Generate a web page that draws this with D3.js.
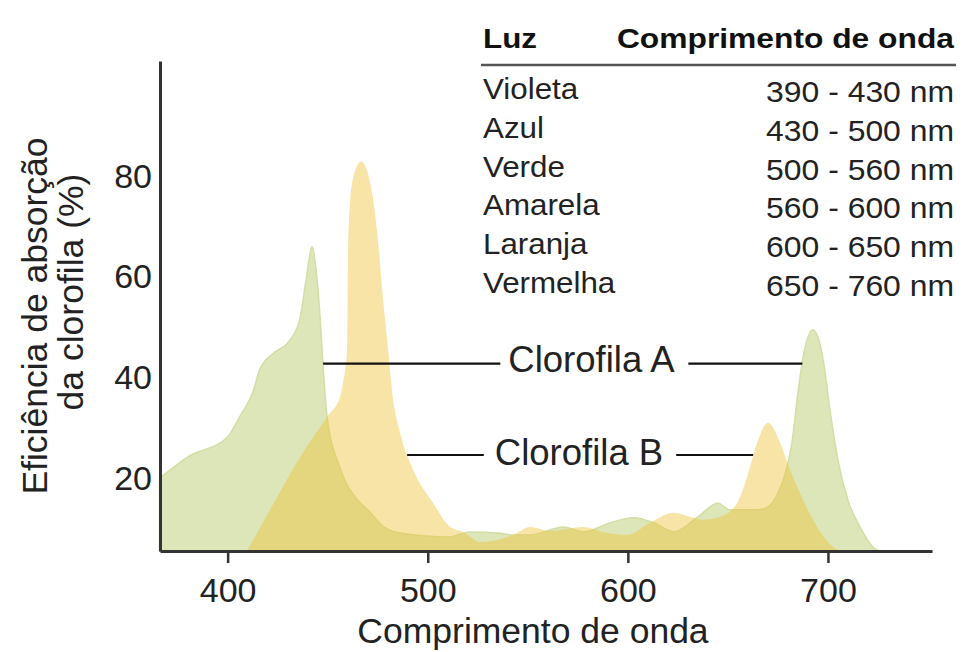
<!DOCTYPE html>
<html>
<head>
<meta charset="utf-8">
<script src="https://cdn.jsdelivr.net/npm/d3@7"></script>
<style>
  html, body { margin: 0; padding: 0; background: #fff; }
  svg { display: block; font-family: "Liberation Sans", Arial, Helvetica, sans-serif; }
</style>
</head>
<body>
<svg id="chart" width="963" height="652"></svg>
<script>
// ---- Data ----
const xTicks = [400, 500, 600, 700];
const yTicks = [20, 40, 60, 80];

// Clorofila A (green) : wavelength (nm), absorption (%)
const chlAWave = [366, 380, 400, 406, 413, 416, 423, 430, 436, 439.2, 442.2, 444.7, 446.2, 447.7, 449.7, 456, 465, 470, 478, 486, 511, 521, 535, 543, 551, 568, 578, 591, 603, 613, 623, 635, 645, 651, 665, 670, 675, 680, 682, 685, 688, 692.6, 697.6, 701, 705, 710, 716, 723, 726];
const chlAValue = [20, 24.2, 28.2, 32.2, 37.6, 41.6, 44.9, 46.9, 51.5, 59.5, 66.1, 59.5, 52, 42.2, 32.2, 22.2, 15.6, 13.7, 10.3, 9.1, 8.3, 9.3, 9.1, 8.7, 8.7, 10.3, 9.3, 11.1, 12.1, 11.1, 9.3, 12.3, 15, 13.7, 13.7, 14.3, 17, 23, 27, 37, 44.9, 49.5, 43.6, 33.6, 23.6, 15.6, 10.3, 6.1, 5.5];

// Clorofila B (yellow)
const chlBWave = [409.7, 424.7, 436.2, 449.7, 456.2, 457.7, 459.7, 460.2, 462.2, 466.7, 471.2, 474.7, 477.7, 480.2, 482.7, 486.2, 492.7, 502.7, 511.2, 517.7, 526.2, 534.7, 542.7, 551.2, 561.2, 577.7, 587.6, 599.6, 611.1, 622.6, 631.1, 637.6, 646.1, 654.6, 659.6, 664.6, 670.1, 676.1, 681.1, 687.6, 694.6, 702.6, 707.1];
const chlBValue = [5.5, 16.2, 24.2, 32.2, 36.2, 39, 45.6, 65.5, 78.8, 83, 78.8, 68.9, 55.5, 45.5, 35.6, 29, 21.6, 15, 10.3, 9.3, 7.3, 7.7, 8.7, 10.3, 9.5, 10.3, 9.3, 8.7, 11.1, 13.1, 12.3, 11.7, 12.3, 15, 20.2, 27, 31, 27, 21.6, 15.6, 10.3, 6.3, 5.5];

// Table of light colours
const tableHeader = ["Luz", "Comprimento de onda"];
const lightNames = ["Violeta", "Azul", "Verde", "Amarela", "Laranja", "Vermelha"];
const lightRanges = ["390 - 430 nm", "430 - 500 nm", "500 - 560 nm", "560 - 600 nm", "600 - 650 nm", "650 - 760 nm"];

const seriesLabels = ["Clorofila A", "Clorofila B"];
const xTitle = "Comprimento de onda";
const yTitle = ["Eficiência de absorção", "da clorofila (%)"];

// ---- Layout ----
const svg = d3.select("#chart");
const x = d3.scaleLinear().domain([366.2, 752]).range([160, 932]);
const y = d3.scaleLinear().domain([5.5, 103]).range([551, 61]);

const area = d3.area()
  .x(d => x(d[0]))
  .y0(y(5.5))
  .y1(d => y(d[1]))
  .curve(d3.curveMonotoneX);

const dataA = chlAWave.map((w, i) => [w, chlAValue[i]]);
const dataB = chlBWave.map((w, i) => [w, chlBValue[i]]);

svg.append("path").datum(dataA)
  .attr("d", area)
  .attr("fill", "#dde6b9")
  .attr("stroke", "#d2dea5")
  .attr("stroke-width", 1.5);

svg.append("path").datum(dataB)
  .attr("d", area)
  .attr("fill", "#eec33a")
  .attr("fill-opacity", 0.45);

// Axes
const xAxis = svg.append("g")
  .attr("transform", `translate(0,${y(5.5)})`)
  .call(d3.axisBottom(x).tickValues(xTicks).tickSize(12).tickSizeOuter(0).tickPadding(15));
xAxis.select(".domain").attr("stroke", "#333").attr("stroke-width", 3);
xAxis.selectAll(".tick line").attr("stroke", "#333").attr("stroke-width", 2.5);
xAxis.selectAll(".tick text").attr("font-size", 34).attr("fill", "#222")
  .attr("font-family", "'Liberation Sans', Arial, sans-serif");

const yAxis = svg.append("g")
  .attr("transform", `translate(${x(366.2)},0)`)
  .call(d3.axisLeft(y).tickValues(yTicks).tickSize(0).tickSizeOuter(0).tickPadding(8));
yAxis.select(".domain").attr("stroke", "#333").attr("stroke-width", 3);
yAxis.selectAll(".tick text").attr("font-size", 34).attr("fill", "#222")
  .attr("font-family", "'Liberation Sans', Arial, sans-serif");

// Axis titles
svg.append("text")
  .attr("x", 533).attr("y", 643)
  .attr("text-anchor", "middle")
  .attr("font-size", 35.5).attr("fill", "#222")
  .text(xTitle);

svg.append("text")
  .attr("transform", "translate(47,316) rotate(-90)")
  .attr("text-anchor", "middle")
  .attr("font-size", 35.5).attr("fill", "#222")
  .text(yTitle[0]);
svg.append("text")
  .attr("transform", "translate(83,292) rotate(-90)")
  .attr("text-anchor", "middle")
  .attr("font-size", 35.5).attr("fill", "#222")
  .text(yTitle[1]);

// Table
const table = svg.append("g");
table.append("text").attr("transform", "translate(483,48) scale(1.12,1)")
  .attr("font-size", 28).attr("font-weight", "bold").attr("fill", "#111")
  .text(tableHeader[0]);
table.append("text").attr("transform", "translate(954,48) scale(1.135,1)")
  .attr("text-anchor", "end")
  .attr("font-size", 28).attr("font-weight", "bold").attr("fill", "#111")
  .text(tableHeader[1]);
table.append("line")
  .attr("x1", 481).attr("x2", 956).attr("y1", 65).attr("y2", 65)
  .attr("stroke", "#555").attr("stroke-width", 2.5);

const rowY = d3.scalePoint().domain(lightNames).range([99, 293]);
table.selectAll("text.name").data(lightNames).join("text")
  .attr("class", "name")
  .attr("transform", d => `translate(483,${rowY(d)}) scale(1.08,1)`)
  .attr("font-size", 29).attr("fill", "#222")
  .text(d => d);
table.selectAll("text.range").data(lightRanges).join("text")
  .attr("class", "range")
  .attr("transform", (d, i) => `translate(954,${rowY(lightNames[i]) + 3}) scale(1.1,1)`)
  .attr("text-anchor", "end")
  .attr("font-size", 29).attr("fill", "#222")
  .text(d => d);

// Annotations (leader lines)
const annotations = [
  { label: seriesLabels[0], from: 447.7, to: 687.2, level: 42.8, cx: 591.5, base: 372, gapL: 8, gapR: 13 },
  { label: seriesLabels[1], from: 489.7, to: 662.6, level: 24.6, cx: 579, base: 465, gapL: 11, gapR: 13 }
];
const annG = svg.append("g");
annotations.forEach(a => {
  const yy = y(a.level);
  const t = annG.append("text")
    .attr("x", a.cx)
    .attr("y", a.base)
    .attr("text-anchor", "middle")
    .attr("font-size", 36.5).attr("fill", "#222")
    .text(a.label);
  const bb = t.node().getBBox();
  annG.append("line")
    .attr("x1", x(a.from)).attr("x2", bb.x - a.gapL)
    .attr("y1", yy).attr("y2", yy)
    .attr("stroke", "#111").attr("stroke-width", 2.2);
  annG.append("line")
    .attr("x1", bb.x + bb.width + a.gapR).attr("x2", x(a.to))
    .attr("y1", yy).attr("y2", yy)
    .attr("stroke", "#111").attr("stroke-width", 2.2);
});
</script>
</body>
</html>
